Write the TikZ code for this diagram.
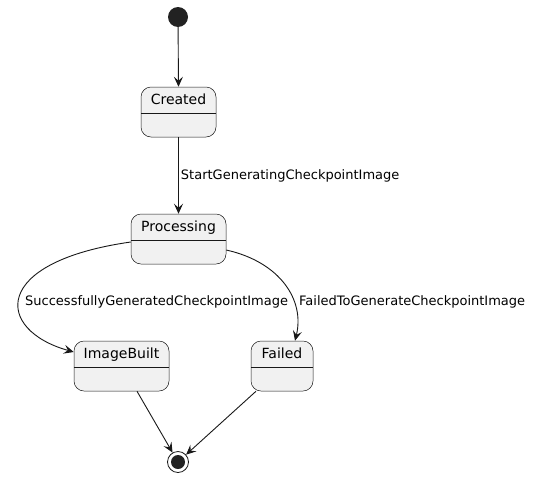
\documentclass[tikz,border=0pt]{standalone}
\usepackage{fontspec}
\setmainfont{DejaVu Sans}
\usetikzlibrary{arrows.meta}
\definecolor{stfill}{HTML}{F1F1F1}
\definecolor{stline}{HTML}{181818}
\definecolor{dotfill}{HTML}{222222}

\begin{document}
\begin{tikzpicture}[x=1pt,y=-1pt,
            state/.style={draw=stline,line width=0.5,fill=stfill,rounded corners=10,minimum height=50,inner sep=0},
            statename/.style={font=\fontsize{14pt}{14pt}\selectfont,anchor=base},
            divider/.style={draw=stline,line width=0.5},
            trans/.style={draw=stline,line width=0.9,-{Stealth[length=10pt,width=9pt,inset=4pt]}},
            translabel/.style={font=\fontsize{13pt}{13pt}\selectfont,inner sep=0}]
            \useasboundingbox (0,0) rectangle (534,479);
            % start point
            \node [circle,fill=dotfill,minimum size=20,inner sep=0] (start) at (178,17) {};
            % Created
            \node [state,minimum width=75] (created) at (178.5,112) {};
            \node [statename] (createdname) at ([yshift=-18]created.north) {Created};
            \draw [divider] ([yshift=-26]created.north west) -- ([yshift=-26]created.north east);
            % Processing
            \node [state,minimum width=95] (processing) at (178.5,239) {};
            \node [statename] (processingname) at ([yshift=-18]processing.north) {Processing};
            \draw [divider] ([yshift=-26]processing.north west) -- ([yshift=-26]processing.north east);
            % ImageBuilt
            \node [state,minimum width=95] (imagebuilt) at (121.5,366) {};
            \node [statename] (imagebuiltname) at ([yshift=-18]imagebuilt.north) {ImageBuilt};
            \draw [divider] ([yshift=-26]imagebuilt.north west) -- ([yshift=-26]imagebuilt.north east);
            % Failed
            \node [state,minimum width=62] (failed) at (282,366) {};
            \node [statename] (failedname) at ([yshift=-18]failed.north) {Failed};
            \draw [divider] ([yshift=-26]failed.north west) -- ([yshift=-26]failed.north east);
            % end point
            \node [circle,draw=stline,line width=0.8,fill=white,minimum size=21,inner sep=0] (finish) at (178,462) {};
            \node [circle,fill=dotfill,minimum size=14,inner sep=0] (finishdot) at (finish.center) {};
            % transitions
            \draw [trans] (start) -- (created.north);
            \draw [trans] (created.south) -- (processing.north)
                node [translabel,right,pos=0.5,xshift=2] (startlabel) {StartGeneratingCheckpointImage};
            \draw [trans] ([yshift=-3]processing.west) .. controls (-10,262) and (-5,330) .. ([yshift=14]imagebuilt.west);
            \node [translabel,anchor=west] (oklabel) at (25,302) {SuccessfullyGeneratedCheckpointImage};
            \draw [trans] ([yshift=-11]processing.east) .. controls (280,262) and (305,300) .. ([xshift=13]failed.north);
            \node [translabel,anchor=west] (faillabel) at (299,302) {FailedToGenerateCheckpointImage};
            \draw [trans] ([xshift=15.5]imagebuilt.south) -- (finish);
            \draw [trans] ([xshift=-26]failed.south) -- (finish);
         \end{tikzpicture}
\end{document}
